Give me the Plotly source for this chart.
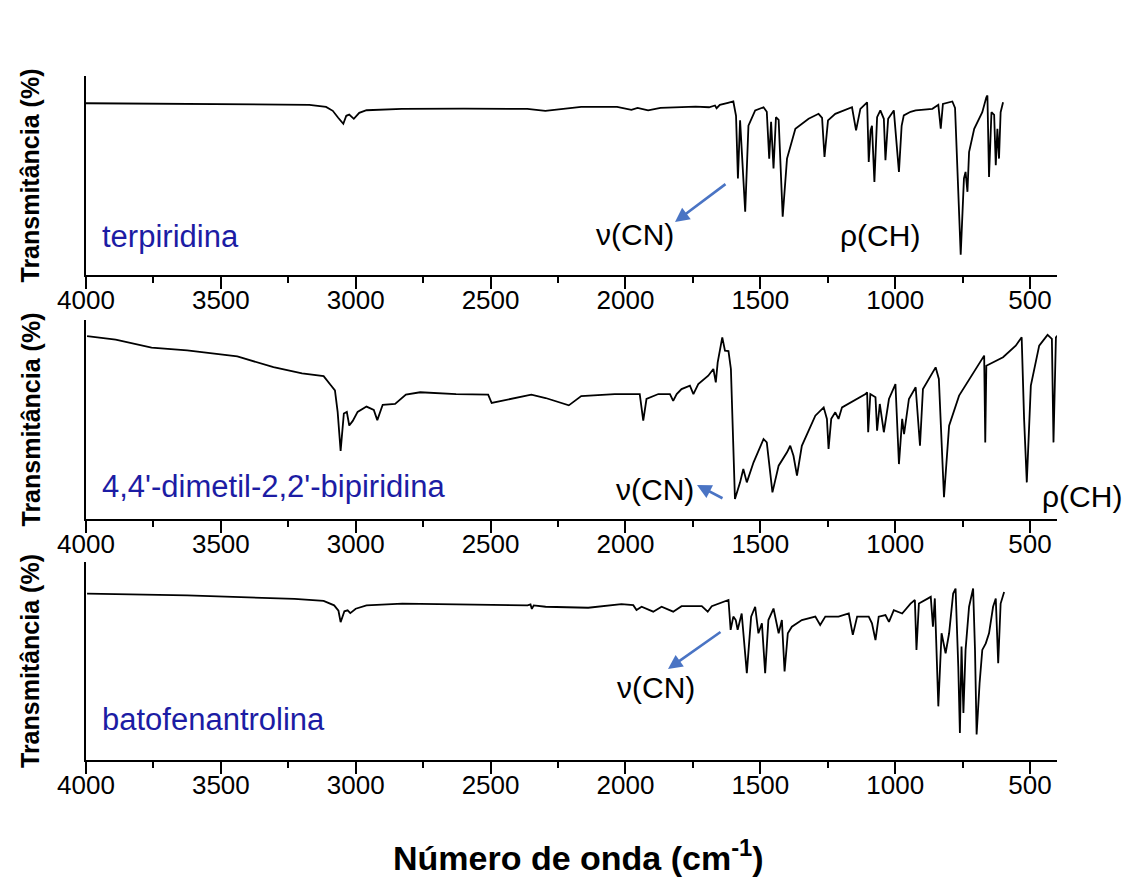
import plotly.graph_objects as go

# ---------------- data ----------------
tick_values = [4000, 3500, 3000, 2500, 2000, 1500, 1000, 500]
tick_labels = ["4000", "3500", "3000", "2500", "2000", "1500", "1000", "500"]
minor_tick_values = [3750, 3250, 2750, 2250, 1750, 1250, 750]

sample_names = ["terpiridina", "4,4'-dimetil-2,2'-bipiridina", "batofenantrolina"]

# terpiridina
terp_wn = [4000, 3600, 3172, 3110, 3093, 3085, 3065, 3046, 3035, 3024, 3007, 2987, 2960, 2829,
           2600, 2364, 2297, 2230, 2164, 2031, 1978, 1955, 1916, 1870, 1792, 1740, 1690, 1668,
           1662, 1650, 1620, 1600, 1590, 1583, 1575, 1556, 1544, 1519, 1488, 1476, 1467, 1460,
           1451, 1442, 1432, 1417, 1401, 1370, 1321, 1284, 1271, 1262, 1249, 1222, 1160, 1145,
           1129, 1104, 1098, 1091, 1086, 1077, 1067, 1055, 1042, 1036, 1026, 1005, 986, 976,
           968, 955, 943, 924, 862, 840, 831, 823, 788, 778, 766, 757, 745, 739, 732, 726,
           707, 677, 662, 658, 652, 643, 633, 627, 621, 615, 609, 600]
terp_t = [86.3, 86.0, 85.5, 84.5, 83.3, 82.5, 79.0, 76.0, 80.0, 80.6, 78.5, 81.5, 82.8, 83.5,
          83.6, 83.5, 82.5, 83.5, 84.5, 84.5, 83.0, 84.0, 82.7, 84.0, 84.3, 84.6, 84.3, 85.2,
          83.8, 85.5, 86.5, 87.2, 80.0, 48.5, 77.7, 31.8, 75.0, 82.7, 84.3, 82.0, 58.5, 77.0,
          53.5, 79.3, 78.0, 29.3, 58.5, 73.5, 78.5, 81.0, 79.0, 59.3, 77.7, 81.0, 84.3, 72.7,
          83.5, 86.8, 56.8, 72.7, 75.0, 46.8, 79.3, 82.7, 78.5, 57.7, 78.5, 82.7, 51.8, 75.0,
          80.2, 81.0, 82.0, 82.7, 83.5, 85.5, 73.5, 86.0, 87.2, 84.0, 41.8, 10.2, 48.5, 51.8,
          41.8, 61.8, 73.5, 81.8, 89.3, 90.2, 49.3, 81.8, 80.5, 55.2, 73.5, 58.5, 81.8, 86.8]

# 4,4'-dimetil-2,2'-bipiridina
bipy_wn = [3996, 3890, 3757, 3625, 3439, 3305, 3199, 3119, 3093, 3077, 3067, 3056, 3044, 3033,
           3024, 3011, 2993, 2960, 2933, 2920, 2900, 2854, 2814, 2761, 2628, 2509, 2496, 2429,
           2349, 2296, 2210, 2164, 2040, 1947, 1934, 1922, 1878, 1835, 1823, 1810, 1792, 1761,
           1748, 1730, 1693, 1674, 1665, 1658, 1641, 1631, 1618, 1609, 1603, 1594, 1575, 1563,
           1550, 1525, 1488, 1476, 1455, 1432, 1401, 1389, 1377, 1364, 1346, 1296, 1265, 1253,
           1247, 1237, 1222, 1210, 1197, 1110, 1104, 1100, 1092, 1073, 1067, 1057, 1042, 1023,
           999, 986, 974, 967, 949, 924, 908, 897, 850, 838, 819, 800, 763, 720, 670, 666,
           662, 600, 553, 531, 522, 512, 497, 466, 435, 419, 413, 404, 398]
bipy_t = [91.9, 90.1, 86.1, 84.7, 81.7, 76.3, 73.2, 71.8, 67.3, 64.6, 53.8, 34.2, 53.0, 53.8,
          47.0, 49.3, 53.8, 56.5, 54.8, 49.7, 57.4, 57.8, 62.5, 63.7, 62.8, 62.5, 58.3, 60.1,
          62.5, 60.8, 57.1, 61.8, 62.8, 62.8, 49.4, 60.3, 62.8, 62.8, 59.4, 62.8, 65.3, 67.0,
          62.8, 67.8, 72.0, 75.4, 68.7, 78.7, 91.3, 84.6, 84.4, 75.4, 50.3, 10.1, 18.4, 25.1,
          18.4, 28.5, 40.2, 38.5, 13.4, 26.8, 33.5, 36.8, 31.8, 21.8, 36.8, 51.9, 56.1, 50.3,
          35.2, 50.3, 53.6, 50.3, 56.1, 62.8, 63.7, 43.6, 62.8, 61.2, 44.4, 57.8, 43.6, 60.3,
          67.8, 27.6, 50.3, 42.7, 60.3, 66.2, 36.8, 65.3, 76.2, 70.4, 10.9, 46.9, 62.0, 71.4,
          82.1, 38.5, 77.0, 81.3, 87.1, 91.3, 50.3, 18.4, 67.0, 87.1, 92.5, 90.5, 38.5, 91.3, 92.1]

# batofenantrolina
bato_wn = [3996, 3625, 3227, 3119, 3080, 3064, 3056, 3042, 3030, 3020, 3000, 2960, 2827, 2363,
           2352, 2347, 2340, 2296, 2138, 2015, 1971, 1959, 1940, 1916, 1897, 1866, 1823, 1792,
           1717, 1695, 1680, 1618, 1610, 1600, 1591, 1584, 1569, 1550, 1534, 1519, 1507, 1494,
           1482, 1470, 1451, 1432, 1420, 1410, 1398, 1383, 1346, 1296, 1278, 1259, 1210, 1172,
           1157, 1141, 1098, 1086, 1073, 1061, 1036, 1023, 1005, 974, 943, 927, 921, 912, 887,
           868, 860, 853, 840, 828, 813, 800, 785, 776, 766, 760, 754, 747, 739, 726, 711, 704,
           698, 687, 677, 664, 652, 637, 627, 618, 609, 596]
bato_t = [84.0, 83.1, 81.4, 80.4, 78.1, 75.4, 69.6, 75.1, 75.6, 74.2, 76.4, 78.1, 79.0, 78.1,
          78.6, 76.3, 78.1, 77.4, 76.9, 78.7, 78.2, 75.7, 77.4, 76.0, 74.9, 77.4, 74.9, 77.7,
          77.7, 74.9, 77.7, 80.8, 65.7, 72.4, 70.7, 65.7, 74.0, 43.9, 72.4, 77.4, 64.0, 69.0,
          43.9, 70.7, 76.5, 64.0, 70.7, 44.7, 64.0, 67.3, 70.7, 72.4, 68.2, 72.4, 72.4, 74.0,
          63.2, 72.4, 72.4, 69.0, 60.6, 72.4, 73.2, 69.8, 75.7, 74.0, 79.0, 80.8, 55.6, 79.0, 80.8,
          82.4, 67.3, 81.6, 27.1, 64.0, 53.9, 64.0, 84.1, 86.6, 47.2, 13.7, 57.3, 23.8, 55.6,
          77.4, 86.6, 55.6, 12.9, 38.8, 55.6, 58.9, 64.0, 77.4, 81.6, 48.9, 79.0, 84.9]

# ---------------- figure ----------------
W, H = 1135, 881
OFF = 8  # page offset of the plot div
FONT = "Liberation Sans, Arial, Helvetica, sans-serif"
BLUE_TXT = "#1c1ca4"
ARROW = "#4a74c4"


def px(x):
    return (x - OFF) / W


def py(y):
    return 1 - (y - OFF) / H


x_dom = [px(86), px(1057)]
panels = [(76, 275), (320, 519), (562, 760)]

fig = go.Figure()
series = [(terp_wn, terp_t), (bipy_wn, bipy_t), (bato_wn, bato_t)]
for i, (wn, t) in enumerate(series):
    sfx = "" if i == 0 else str(i + 1)
    fig.add_trace(go.Scatter(x=wn, y=t, mode="lines",
                             line=dict(color="black", width=1.8),
                             xaxis="x" + sfx, yaxis="y" + sfx,
                             showlegend=False, hoverinfo="skip"))

layout = dict(width=W, height=H,
              margin=dict(l=0, r=0, t=0, b=0, pad=0, autoexpand=False),
              paper_bgcolor="white", plot_bgcolor="white",
              font=dict(family=FONT, color="black"))

for i, (top, bot) in enumerate(panels):
    sfx = "" if i == 0 else str(i + 1)
    layout["xaxis" + sfx] = dict(
        domain=x_dom, range=[4000, 400], anchor="y" + sfx, automargin=False,
        showline=True, linecolor="black", linewidth=2,
        ticks="outside", ticklen=12, tickwidth=2, tickcolor="black",
        tickmode="array", tickvals=tick_values, ticktext=tick_labels,
        tickfont=dict(family=FONT, size=26, color="black"),
        ticklabelstandoff=-11,
        minor=dict(ticks="outside", ticklen=6, tickwidth=2, tickcolor="black",
                   tickvals=minor_tick_values, showgrid=False),
        showgrid=False, zeroline=False, fixedrange=True)
    layout["yaxis" + sfx] = dict(
        domain=[py(bot), py(top)], range=[0, 100], anchor="x" + sfx, automargin=False,
        showline=True, linecolor="black", linewidth=2,
        ticks="", showticklabels=False, showgrid=False, zeroline=False)

annotations = []
# y titles
for top, bot in panels:
    annotations.append(dict(xref="paper", yref="paper", x=px(30), y=py((top + bot) / 2),
                            text="<b>Transmitância (%)</b>", textangle=-90, showarrow=False,
                            xanchor="center", yanchor="middle",
                            font=dict(family=FONT, size=25, color="black")))
# x title
annotations.append(dict(xref="paper", yref="paper", x=px(578), y=py(855),
                        text="<b>Número de onda (cm<sup>-1</sup>)</b>", showarrow=False,
                        xanchor="center", yanchor="middle",
                        font=dict(family=FONT, size=34, color="black")))
# sample names
for name, yc in zip(sample_names, [236, 486, 719]):
    annotations.append(dict(xref="paper", yref="paper", x=px(100), y=py(yc),
                            text=name, showarrow=False, xanchor="left", yanchor="middle",
                            font=dict(family=FONT, size=31, color=BLUE_TXT)))
# band labels
for txt, xc, yc in [("ν(CN)", 635, 234), ("ρ(CH)", 880, 235),
                    ("ν(CN)", 655, 489), ("ρ(CH)", 1082, 496),
                    ("ν(CN)", 656, 687)]:
    annotations.append(dict(xref="paper", yref="paper", x=px(xc), y=py(yc),
                            text=txt, showarrow=False, xanchor="center", yanchor="middle",
                            font=dict(family=FONT, size=30, color="black")))
# arrows (head position, tail offset)
for hx, hy, tx, ty in [(675, 222, 727, 183), (697, 485, 724, 499), (668, 669, 722, 631)]:
    annotations.append(dict(xref="paper", yref="paper", x=px(hx), y=py(hy),
                            ax=tx - hx, ay=ty - hy, axref="pixel", ayref="pixel",
                            text="", showarrow=True, arrowhead=2, arrowsize=1.1,
                            arrowwidth=2.6, arrowcolor=ARROW, standoff=0, startstandoff=0))

layout["annotations"] = annotations
fig.update_layout(**layout)
fig.write_html("out.html")
